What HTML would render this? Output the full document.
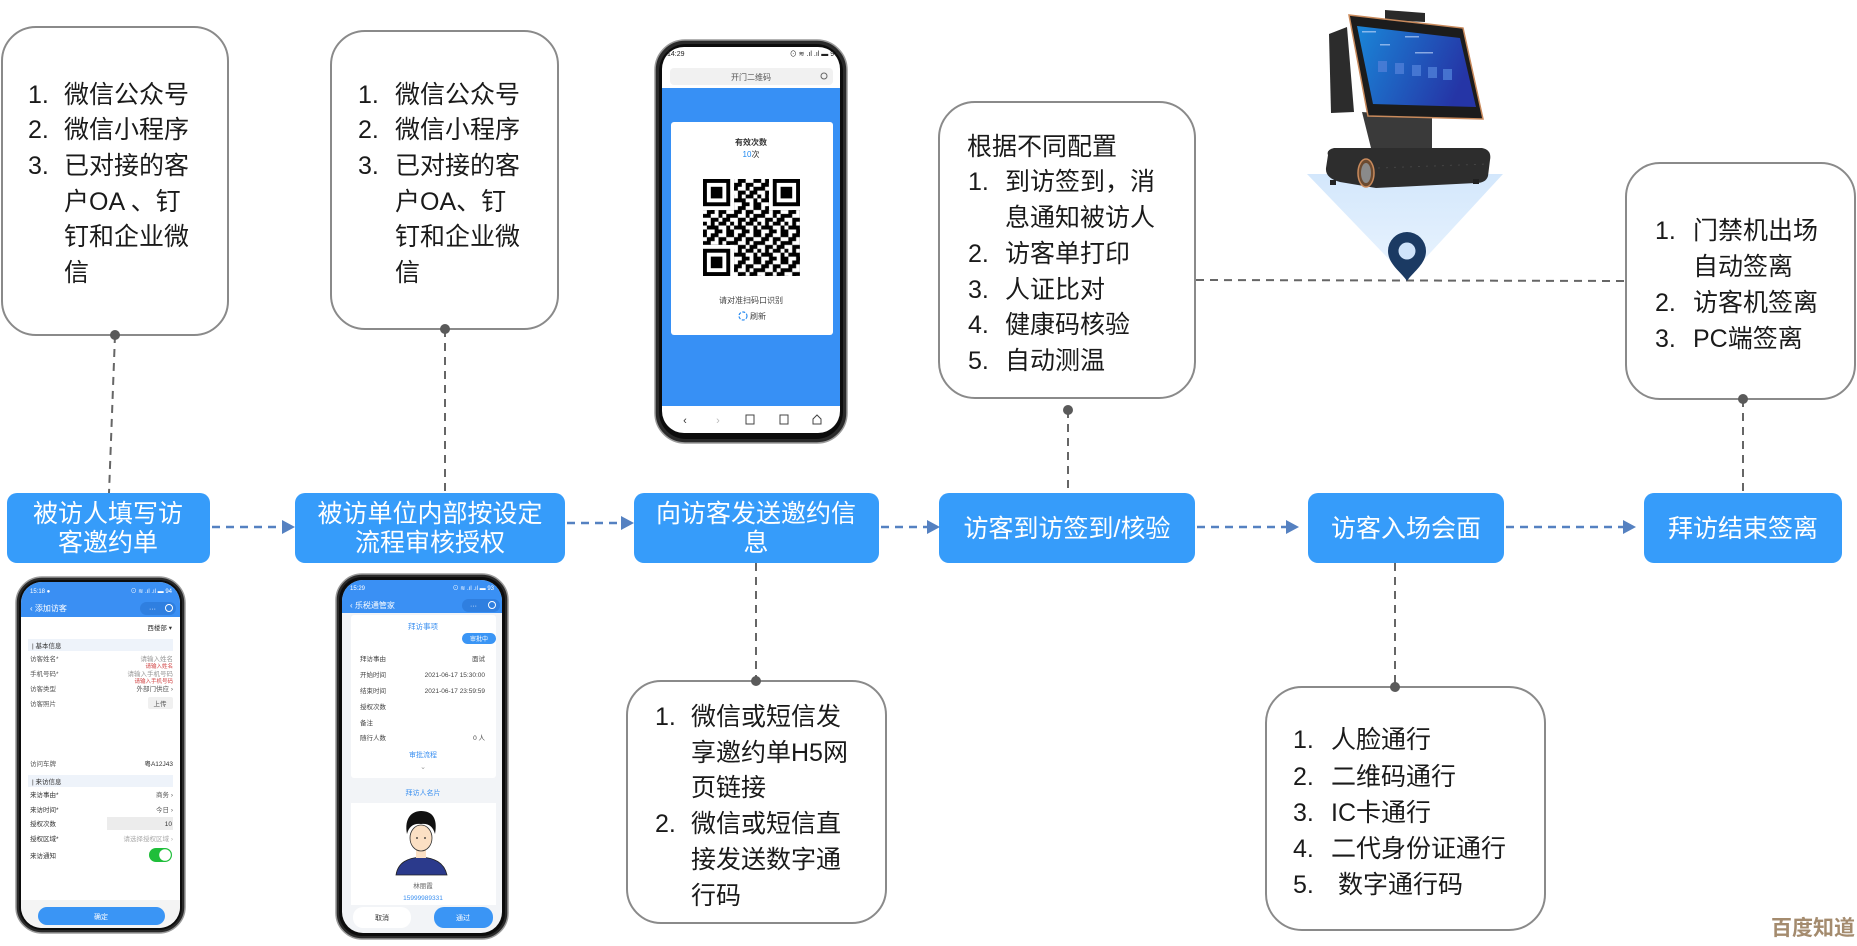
<!DOCTYPE html>
<html><head><meta charset="utf-8"><style>
html,body{margin:0;padding:0;background:#fff;}
svg{display:block;}
</style></head><body>
<svg width="1857" height="946" viewBox="0 0 1857 946" xmlns="http://www.w3.org/2000/svg" font-family="'Liberation Sans','Noto Sans CJK SC',sans-serif">
<defs>
  <pattern id="qrp" width="7" height="7" patternUnits="userSpaceOnUse" patternTransform="translate(703,179) scale(3.88)">
    <path fill="#000" d="M0 0h1v1h-1z M2 0h2v1h-2z M6 0h1v1h-1z M1 1h2v1h-2z M4 1h2v1h-2z M0 2h2v1h-2z M4 2h1v1h-1z M6 2h1v1h-1z M2 3h2v1h-2z M5 3h2v1h-2z M0 4h1v1h-1z M2 4h1v1h-1z M4 4h2v1h-2z M1 5h3v1h-3z M6 5h1v1h-1z M0 6h1v1h-1z M3 6h2v1h-2z M6 6h1v1h-1z"/>
  </pattern>
  <linearGradient id="tri" x1="0" y1="0" x2="0" y2="1">
    <stop offset="0" stop-color="#d3e7fc"/>
    <stop offset="1" stop-color="#eaf4fe"/>
  </linearGradient>
  <linearGradient id="scr" x1="0" y1="0" x2="1" y2="0.3">
    <stop offset="0" stop-color="#1a86d8"/>
    <stop offset="1" stop-color="#2535a6"/>
  </linearGradient>
  <clipPath id="clA"><rect x="21" y="582" width="159" height="346" rx="21"/></clipPath>
  <clipPath id="clB"><rect x="342" y="580" width="160" height="353" rx="21"/></clipPath>
  <clipPath id="cl1"><rect x="662" y="47" width="178" height="386" rx="22"/></clipPath>
</defs>

<!-- ===== Top bubbles ===== -->
<g fill="#fff" stroke="#8a8a8a" stroke-width="2">
  <rect x="2" y="27" width="226" height="308" rx="34"/>
  <rect x="331" y="31" width="227" height="298" rx="34"/>
  <rect x="939" y="102" width="256" height="296" rx="36"/>
  <rect x="1626" y="163" width="229" height="236" rx="34"/>
  <rect x="627" y="681" width="259" height="242" rx="34"/>
  <rect x="1266" y="687" width="279" height="243" rx="36"/>
</g>

<!-- gray dashed connectors -->
<g stroke="#666" stroke-width="2" stroke-dasharray="8 6" fill="none">
  <line x1="115" y1="335" x2="109" y2="493"/>
  <line x1="445" y1="329" x2="445" y2="493"/>
  <line x1="1068" y1="410" x2="1068" y2="493"/>
  <line x1="1743" y1="399" x2="1743" y2="493"/>
  <line x1="756" y1="563" x2="756" y2="681"/>
  <line x1="1395" y1="563" x2="1395" y2="687"/>
  <line x1="1196" y1="280" x2="1626" y2="281"/>
</g>
<g fill="#5a5a5a">
  <circle cx="115" cy="335" r="5"/>
  <circle cx="445" cy="329" r="5"/>
  <circle cx="1068" cy="410" r="5"/>
  <circle cx="1743" cy="399" r="5"/>
  <circle cx="756" cy="681" r="5"/>
  <circle cx="1395" cy="687" r="5"/>
</g>

<!-- bubble texts -->
<g font-size="25" fill="#1a1a1a">
  <text x="28" y="103">1.</text><text x="64" y="103">微信公众号</text>
  <text x="28" y="138">2.</text><text x="64" y="138">微信小程序</text>
  <text x="28" y="174">3.</text><text x="64" y="174">已对接的客</text>
  <text x="64" y="210">户OA 、钉</text>
  <text x="64" y="245">钉和企业微</text>
  <text x="64" y="281">信</text>

  <text x="358" y="103">1.</text><text x="395" y="103">微信公众号</text>
  <text x="358" y="138">2.</text><text x="395" y="138">微信小程序</text>
  <text x="358" y="174">3.</text><text x="395" y="174">已对接的客</text>
  <text x="395" y="210">户OA、钉</text>
  <text x="395" y="245">钉和企业微</text>
  <text x="395" y="281">信</text>

  <text x="967" y="155">根据不同配置</text>
  <text x="968" y="190">1.</text><text x="1005" y="190">到访签到，消</text>
  <text x="1005" y="226">息通知被访人</text>
  <text x="968" y="262">2.</text><text x="1005" y="262">访客单打印</text>
  <text x="968" y="298">3.</text><text x="1005" y="298">人证比对</text>
  <text x="968" y="333">4.</text><text x="1005" y="333">健康码核验</text>
  <text x="968" y="369">5.</text><text x="1005" y="369">自动测温</text>

  <text x="1655" y="239">1.</text><text x="1693" y="239">门禁机出场</text>
  <text x="1693" y="275">自动签离</text>
  <text x="1655" y="311">2.</text><text x="1693" y="311">访客机签离</text>
  <text x="1655" y="347">3.</text><text x="1693" y="347">PC端签离</text>

  <text x="655" y="725">1.</text><text x="691" y="725">微信或短信发</text>
  <text x="691" y="761">享邀约单H5网</text>
  <text x="691" y="796">页链接</text>
  <text x="655" y="832">2.</text><text x="691" y="832">微信或短信直</text>
  <text x="691" y="868">接发送数字通</text>
  <text x="691" y="904">行码</text>

  <text x="1293" y="748">1.</text><text x="1331" y="748">人脸通行</text>
  <text x="1293" y="785">2.</text><text x="1331" y="785">二维码通行</text>
  <text x="1293" y="821">3.</text><text x="1331" y="821">IC卡通行</text>
  <text x="1293" y="857">4.</text><text x="1331" y="857">二代身份证通行</text>
  <text x="1293" y="893">5.</text><text x="1338" y="893">数字通行码</text>
</g>

<!-- ===== Blue process boxes ===== -->
<g fill="#369cfa">
  <rect x="7" y="493" width="203" height="70" rx="10"/>
  <rect x="295" y="493" width="270" height="70" rx="10"/>
  <rect x="634" y="493" width="245" height="70" rx="10"/>
  <rect x="939" y="493" width="256" height="70" rx="10"/>
  <rect x="1308" y="493" width="196" height="70" rx="10"/>
  <rect x="1644" y="493" width="198" height="70" rx="10"/>
</g>
<g font-size="25" fill="#fff" text-anchor="middle">
  <text x="108" y="522">被访人填写访</text>
  <text x="108" y="551">客邀约单</text>
  <text x="430" y="522">被访单位内部按设定</text>
  <text x="430" y="551">流程审核授权</text>
  <text x="756" y="522">向访客发送邀约信</text>
  <text x="756" y="551">息</text>
  <text x="1067" y="537">访客到访签到/核验</text>
  <text x="1406" y="537">访客入场会面</text>
  <text x="1743" y="537">拜访结束签离</text>
</g>

<!-- blue arrows -->
<g stroke="#5581c1" stroke-width="2.5" stroke-dasharray="8 6" fill="none">
  <line x1="212" y1="527" x2="283" y2="527"/>
  <line x1="567" y1="523" x2="622" y2="523"/>
  <line x1="881" y1="527" x2="928" y2="527"/>
  <line x1="1197" y1="527" x2="1287" y2="527"/>
  <line x1="1506" y1="527" x2="1624" y2="527"/>
</g>
<g fill="#5581c1">
  <polygon points="282,520 295,527 282,534"/>
  <polygon points="621,516 634,523 621,530"/>
  <polygon points="927,520 940,527 927,534"/>
  <polygon points="1286,520 1299,527 1286,534"/>
  <polygon points="1623,520 1636,527 1623,534"/>
</g>

<!-- ===== Phone 1 (QR) ===== -->
<g>
  <rect x="655" y="40" width="192" height="403" rx="30" fill="#2a2a2a" stroke="#9a9a9a" stroke-width="1.5"/>
  <rect x="659" y="44" width="184" height="395" rx="27" fill="#0c0c0c"/>
  <g clip-path="url(#cl1)">
    <rect x="662" y="47" width="178" height="386" fill="#fff"/>
    <rect x="662" y="88" width="178" height="318" fill="#3790f5"/>
  </g>
  <text x="667" y="56" font-size="7" fill="#222">14:29</text>
  <text x="838" y="56" font-size="7" fill="#222" text-anchor="end">⊙ ≋ .ıl .ıl ▬ 97</text>
  <rect x="670" y="68" width="163" height="17" rx="4" fill="#f1f1f1"/>
  <text x="751" y="80" font-size="8" fill="#555" text-anchor="middle">开门二维码</text>
  <circle cx="824" cy="76" r="3" fill="none" stroke="#666" stroke-width="1"/>
  <rect x="671" y="122" width="162" height="213" rx="3" fill="#fff"/>
  <text x="751" y="145" font-size="8" font-weight="bold" fill="#333" text-anchor="middle">有效次数</text>
  <text x="751" y="157" font-size="8" text-anchor="middle"><tspan fill="#1e88f0">10</tspan><tspan fill="#333">次</tspan></text>
  <rect x="703" y="179" width="97" height="97" fill="url(#qrp)"/>
  <g>
    <rect x="703" y="179" width="31" height="31" fill="#fff"/>
    <rect x="703" y="179" width="27.2" height="27.2" fill="#000"/>
    <rect x="706.9" y="182.9" width="19.4" height="19.4" fill="#fff"/>
    <rect x="710.8" y="186.8" width="11.6" height="11.6" fill="#000"/>
    <rect x="769" y="179" width="31" height="31" fill="#fff"/>
    <rect x="772.8" y="179" width="27.2" height="27.2" fill="#000"/>
    <rect x="776.7" y="182.9" width="19.4" height="19.4" fill="#fff"/>
    <rect x="780.6" y="186.8" width="11.6" height="11.6" fill="#000"/>
    <rect x="703" y="245" width="31" height="31" fill="#fff"/>
    <rect x="703" y="248.8" width="27.2" height="27.2" fill="#000"/>
    <rect x="706.9" y="252.7" width="19.4" height="19.4" fill="#fff"/>
    <rect x="710.8" y="256.6" width="11.6" height="11.6" fill="#000"/>
  </g>
  <text x="751" y="303" font-size="8" fill="#444" text-anchor="middle">请对准扫码口识别</text>
  <circle cx="743" cy="316" r="4" fill="none" stroke="#2a8cf0" stroke-width="1.2" stroke-dasharray="3 1.5"/>
  <text x="750" y="319" font-size="8" fill="#444">刷新</text>
  <g font-size="11" fill="#333" text-anchor="middle">
    <text x="685" y="424">‹</text>
    <text x="718" y="424" fill="#bbb">›</text>
  </g>
  <rect x="746" y="415" width="8" height="9" fill="none" stroke="#444" stroke-width="1"/>
  <rect x="780" y="415" width="8" height="9" fill="none" stroke="#444" stroke-width="1"/>
  <path d="M813 424 v-5 l4 -4 l4 4 v5 z" fill="none" stroke="#444" stroke-width="1"/>
</g>

<!-- ===== Phone A (visitor form) ===== -->
<g>
  <rect x="16" y="577" width="169" height="356" rx="26" fill="#2a2a2a" stroke="#9a9a9a" stroke-width="1.5"/>
  <rect x="19" y="580" width="163" height="350" rx="23" fill="#0c0c0c"/>
  <g clip-path="url(#clA)">
    <rect x="21" y="582" width="159" height="346" fill="#fff"/>
    <rect x="21" y="582" width="159" height="35" fill="#3a8ff3"/>
    <rect x="21" y="900" width="159" height="28" fill="#f4f4f4"/>
  </g>
  <g font-size="6" fill="#fff">
    <text x="30" y="593">15:18 ●</text>
    <text x="172" y="593" text-anchor="end">⊙ ≋ .ıl .ıl ▬ 94</text>
  </g>
  <text x="30" y="611" font-size="8" fill="#fff">‹  添加访客</text>
  <rect x="140" y="602" width="36" height="13" rx="6.5" fill="#2f7fe0"/>
  <text x="149" y="611" font-size="7" fill="#fff">···</text>
  <circle cx="169" cy="608" r="3.5" fill="none" stroke="#fff" stroke-width="1"/>
  <g font-size="6.5" fill="#555">
    <text x="172" y="630" text-anchor="end" fill="#333">西楼部 ▾</text>
    <rect x="28" y="639" width="145" height="12" fill="#eef3fa"/>
    <text x="32" y="648" fill="#333">| 基本信息</text>
    <text x="30" y="661">访客姓名*</text>
    <text x="173" y="661" text-anchor="end" fill="#999">请输入姓名</text>
    <text x="173" y="668" text-anchor="end" fill="#d04040" font-size="5.5">请输入姓名</text>
    <text x="30" y="676">手机号码*</text>
    <text x="173" y="676" text-anchor="end" fill="#999">请输入手机号码</text>
    <text x="173" y="683" text-anchor="end" fill="#d04040" font-size="5.5">请输入手机号码</text>
    <text x="30" y="691">访客类型</text>
    <text x="173" y="691" text-anchor="end">外部门供应 ›</text>
    <text x="30" y="706">访客照片</text>
    <rect x="148" y="697" width="25" height="12" rx="2" fill="#f0f0f0"/>
    <text x="160" y="706" text-anchor="middle">上传</text>
    <text x="30" y="766">访问车牌</text>
    <text x="173" y="766" text-anchor="end" fill="#333">粤A12J43</text>
    <rect x="28" y="775" width="145" height="12" fill="#eef3fa"/>
    <text x="32" y="784" fill="#333">| 来访信息</text>
    <text x="30" y="797" fill="#333">来访事由*</text>
    <text x="173" y="797" text-anchor="end">商务 ›</text>
    <text x="30" y="812" fill="#333">来访时间*</text>
    <text x="173" y="812" text-anchor="end">今日 ›</text>
    <rect x="107" y="817" width="66" height="13" fill="#ececec"/>
    <text x="30" y="826" fill="#333">授权次数</text>
    <text x="172" y="826" text-anchor="end" fill="#333">10</text>
    <text x="30" y="841" fill="#333">授权区域*</text>
    <text x="173" y="841" text-anchor="end" fill="#aaa">请选择授权区域 ›</text>
    <text x="30" y="858" fill="#333">来访通知</text>
  </g>
  <rect x="149" y="848" width="23" height="14" rx="7" fill="#1fbe3a"/>
  <circle cx="165" cy="855" r="5.8" fill="#fff"/>
  <rect x="38" y="907" width="127" height="18" rx="9" fill="#3a95f5"/>
  <text x="101" y="919" font-size="7" fill="#fff" text-anchor="middle">确定</text>
</g>

<!-- ===== Phone B (approval) ===== -->
<g>
  <rect x="336" y="574" width="172" height="365" rx="26" fill="#2a2a2a" stroke="#9a9a9a" stroke-width="1.5"/>
  <rect x="339" y="577" width="166" height="359" rx="23" fill="#0c0c0c"/>
  <g clip-path="url(#clB)">
    <rect x="342" y="580" width="160" height="353" fill="#f2f4f7"/>
    <rect x="342" y="580" width="160" height="33" fill="#3a90f4"/>
  </g>
  <g font-size="6" fill="#fff">
    <text x="350" y="590">15:29</text>
    <text x="494" y="590" text-anchor="end">⊙ ≋ .ıl .ıl ▬ 93</text>
  </g>
  <text x="350" y="608" font-size="8" fill="#fff">‹  乐税通管家</text>
  <rect x="462" y="599" width="38" height="13" rx="6.5" fill="#2f7fe0"/>
  <text x="470" y="608" font-size="7" fill="#fff">···</text>
  <circle cx="492" cy="605" r="3.5" fill="none" stroke="#fff" stroke-width="1"/>
  <rect x="351" y="615" width="145" height="163" rx="3" fill="#fff"/>
  <text x="423" y="629" font-size="7.5" fill="#3a8ff0" text-anchor="middle">拜访事项</text>
  <rect x="462" y="633" width="34" height="11" rx="5.5" fill="#3a95f5"/>
  <text x="479" y="641" font-size="6" fill="#fff" text-anchor="middle">审批中</text>
  <g font-size="6.5" fill="#444">
    <text x="360" y="661">拜访事由</text><text x="485" y="661" text-anchor="end">面试</text>
    <text x="360" y="677">开始时间</text><text x="485" y="677" text-anchor="end">2021-06-17 15:30:00</text>
    <text x="360" y="693">结束时间</text><text x="485" y="693" text-anchor="end">2021-06-17 23:59:59</text>
    <text x="360" y="709">授权次数</text>
    <text x="360" y="725">备注</text>
    <text x="360" y="740">随行人数</text><text x="485" y="740" text-anchor="end">0 人</text>
  </g>
  <text x="423" y="757" font-size="7" fill="#3a8ff0" text-anchor="middle">审批流程</text>
  <text x="423" y="769" font-size="7" fill="#999" text-anchor="middle">⌄</text>
  <text x="423" y="795" font-size="7" fill="#3a8ff0" text-anchor="middle">拜访人名片</text>
  <rect x="351" y="803" width="145" height="102" fill="#fff"/>
  <path d="M396 875 C398 862 408 858 421 857 C434 858 444 862 447 875 Z" fill="#2b3a8c" stroke="#222" stroke-width="0.8"/>
  <rect x="416" y="846" width="10" height="12" fill="#fbe0c4"/>
  <ellipse cx="421" cy="838" rx="11" ry="13" fill="#fbe0c4" stroke="#333" stroke-width="0.8"/>
  <path d="M407 834 C404 818 412 811 421 811 C432 811 438 818 435 834 C433 826 428 823 421 824 C414 823 409 826 407 834 Z" fill="#111"/>
  <circle cx="417" cy="838" r="0.9" fill="#222"/><circle cx="425" cy="838" r="0.9" fill="#222"/>
  <text x="423" y="888" font-size="6.5" fill="#666" text-anchor="middle">林丽霞</text>
  <text x="423" y="900" font-size="6.5" fill="#3a8ff0" text-anchor="middle">15999989331</text>
  <rect x="353" y="907" width="58" height="21" rx="10" fill="#fff"/>
  <text x="382" y="920" font-size="7" fill="#333" text-anchor="middle">取消</text>
  <rect x="434" y="907" width="59" height="21" rx="10" fill="#3a95f5"/>
  <text x="463" y="920" font-size="7" fill="#fff" text-anchor="middle">通过</text>
</g>

<!-- ===== Kiosk device ===== -->
<polygon points="1307,174 1503,174 1407,278" fill="url(#tri)"/>
<g>
  <!-- back screen -->
  <polygon points="1329,34 1347,27 1354,112 1331,113" fill="#2c2c2c"/>
  <!-- camera -->
  <polygon points="1385,10 1425,13 1425,22 1385,20" fill="#2a2a2a"/>
  <!-- neck -->
  <polygon points="1362,112 1432,117 1432,148 1446,156 1392,162 1372,152" fill="#3a3a3a"/>
  <!-- main bezel -->
  <polygon points="1349,15 1463,28 1483,119 1368,116" fill="#1c1c1c" stroke="#c98a5c" stroke-width="1.5"/>
  <polygon points="1357,26 1460,38 1476,107 1373,104" fill="url(#scr)"/>
  <g fill="#4f7fd8" opacity="0.8">
    <rect x="1378" y="61" width="9" height="11"/>
    <rect x="1395" y="63" width="9" height="11"/>
    <rect x="1412" y="65" width="9" height="11"/>
    <rect x="1428" y="67" width="9" height="11"/>
    <rect x="1443" y="69" width="9" height="11"/>
  </g>
  <g fill="#cfe0ff" opacity="0.6">
    <rect x="1362" y="31" width="14" height="1.5"/>
    <rect x="1405" y="36" width="14" height="1.5"/>
    <rect x="1380" y="44" width="10" height="1.5"/>
    <rect x="1415" y="52" width="18" height="1.5"/>
  </g>
  <!-- base -->
  <path d="M1328 155 Q1326 150 1334 148 L1482 148 Q1492 150 1490 160 L1488 176 Q1486 183 1476 183 L1376 188 L1340 182 Q1325 178 1326 168 Z" fill="#2d2d2d"/>
  <rect x="1330" y="180" width="6" height="5" fill="#222"/>
  <rect x="1473" y="179" width="6" height="5" fill="#222"/>
  <ellipse cx="1366" cy="173" rx="8" ry="14" fill="#6b4a30" stroke="#c98a5c" stroke-width="1.5"/>
  <ellipse cx="1366" cy="173" rx="5" ry="10" fill="#8a8a8a"/>
  <line x1="1378" y1="168" x2="1488" y2="164" stroke="#444" stroke-width="1" stroke-dasharray="2 6"/>
</g>
<!-- map pin -->
<path d="M1407 281 C1401 272 1388 264 1388 251 A19 19 0 1 1 1426 251 C1426 264 1413 272 1407 281 Z" fill="#1b3a63"/>
<circle cx="1407" cy="251" r="8.5" fill="#cfe3fa"/>

<!-- watermark -->
<text x="1771" y="935" font-size="21" font-weight="bold" fill="#a48b6e">百度知道</text>
</svg>
</body></html>
